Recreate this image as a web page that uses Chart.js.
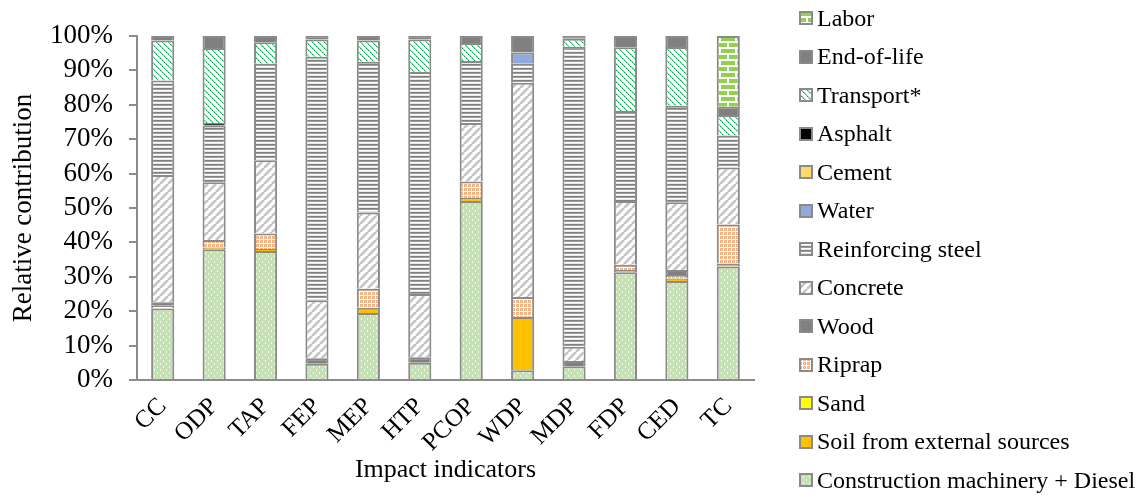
<!DOCTYPE html>
<html>
<head>
  <title>Relative contribution</title>
  <script src="https://cdn.jsdelivr.net/npm/chart.js"></script>
  <style>
    body { margin: 0; background: #fff; }
    #wrap { position: relative; width: 1145px; height: 496px; }
    #legend { position: absolute; left: 799px; top: 0; font-family: 'Liberation Serif', serif; font-size: 24px; color: #000; }
    .item { position: absolute; left: 0; height: 30px; display: flex; align-items: center; white-space: nowrap; }
    .item canvas { margin-right: 4px; }
  </style>
</head>
<body>
<div id="wrap">
  <canvas id="chart" width="1145" height="496"></canvas>
  <div id="legend"></div>
</div>
<script>
// categories + tick labels
const indicators = ['CC', 'ODP', 'TAP', 'FEP', 'MEP', 'HTP', 'PCOP', 'WDP', 'MDP', 'FDP', 'CED', 'TC'];
const yTicks = [0, 10, 20, 30, 40, 50, 60, 70, 80, 90, 100];

// shares in %, bottom of the stack first
const machinery = [20.8, 38.0, 37.5, 4.7, 19.5, 5.0, 52.0, 2.8, 4.0, 31.3, 28.8, 33.0];
const soil      = [0, 0.5, 0.6, 0, 1.5, 0, 0.9, 15.5, 0, 0.7, 0.7, 0.9];
const sand      = [0, 0, 0, 0, 0, 0, 0, 0, 0, 0, 0, 0];
const riprap    = [0.8, 2.2, 4.5, 0, 5.5, 0, 4.8, 5.8, 0, 1.5, 1.0, 11.3];
const wood      = [1.0, 0, 0, 1.6, 0, 1.6, 0, 0, 1.5, 0, 1.5, 0];
const concrete  = [37.0, 16.8, 21.3, 16.9, 22.2, 18.4, 17.0, 62.3, 4.2, 18.5, 19.7, 16.6];
const steel     = [27.5, 16.5, 28.0, 70.8, 43.8, 64.5, 18.0, 5.5, 87.2, 26.2, 28.0, 9.3];
const water     = [0, 0, 0, 0, 0, 0, 0, 3.3, 0, 0, 0, 0];
const cement    = [0, 0, 0, 0, 0, 0, 0, 0, 0, 0, 0, 0];
const asphalt   = [0, 0.7, 0, 0, 0, 0, 0, 0, 0, 0, 0, 0];
const transport = [11.6, 21.8, 6.3, 5.0, 6.2, 9.5, 5.3, 0, 2.3, 18.5, 17.1, 5.9];
const endOfLife = [1.3, 3.5, 1.8, 1.0, 1.3, 1.0, 2.0, 4.8, 0.8, 3.3, 3.2, 2.4];
const labor     = [0, 0, 0, 0, 0, 0, 0, 0, 0, 0, 0, 20.6];

const FONT = 'Liberation Serif';
const EDGE = '#8a8a8a';

// tiles for the hatch fills
function tile(w, h, draw) {
  const c = document.createElement('canvas');
  c.width = w; c.height = h;
  draw(c.getContext('2d'));
  return c;
}
function solid(color) {
  return tile(2, 2, g => { g.fillStyle = color; g.fillRect(0, 0, 2, 2); });
}

const tiles = {
  machinery: tile(6, 6, g => {
    g.fillStyle = '#c5e0b4'; g.fillRect(0, 0, 6, 6);
    g.fillStyle = '#f2f8ee'; g.fillRect(1, 0, 1, 2); g.fillRect(4, 3, 1, 2);
  }),
  soil: solid('#ffc000'),
  sand: solid('#ffff00'),
  riprap: tile(4, 4, g => {
    g.fillStyle = '#ffffff'; g.fillRect(0, 0, 4, 4);
    g.fillStyle = '#f4b183'; g.fillRect(0, 0, 3, 3);
    g.fillStyle = '#f8cbad'; g.fillRect(1, 1, 1, 1);
  }),
  wood: solid('#808080'),
  concrete: tile(8, 8, g => {
    g.fillStyle = '#ffffff'; g.fillRect(0, 0, 8, 8);
    g.strokeStyle = '#c4c4c4'; g.lineWidth = 2.6;
    for (const o of [-8, 0, 8]) { g.beginPath(); g.moveTo(o, 8); g.lineTo(o + 8, 0); g.stroke(); }
  }),
  steel: tile(1, 4, g => {
    g.fillStyle = '#808080'; g.fillRect(0, 0, 1, 1);
    g.fillStyle = '#9c9c9c'; g.fillRect(0, 1, 1, 1);
    g.fillStyle = '#ffffff'; g.fillRect(0, 2, 1, 1);
    g.fillStyle = '#e8e8e8'; g.fillRect(0, 3, 1, 1);
  }),
  water: solid('#8faadc'),
  cement: solid('#ffd966'),
  asphalt: solid('#000000'),
  transport: tile(6, 6, g => {
    g.fillStyle = '#ffffff'; g.fillRect(0, 0, 6, 6);
    for (let i = 0; i < 6; i++) {
      g.fillStyle = i % 2 === 0 ? '#00b050' : '#5fca91';
      g.fillRect(i, i, 1, 1);
      g.fillStyle = '#a6e2c1';
      g.fillRect((i + 1) % 6, i, 1, 1);
    }
  }),
  endOfLife: solid('#808080'),
  labor: tile(16, 12, g => {
    g.fillStyle = '#ffffff'; g.fillRect(0, 0, 16, 12);
    g.fillStyle = '#92d050';
    g.fillRect(1, 1, 14, 4);
    g.fillRect(0, 7, 7, 4); g.fillRect(9, 7, 7, 4);
  })
};

const ctx = document.getElementById('chart').getContext('2d');
const pat = key => ctx.createPattern(tiles[key], 'repeat');

const series = [
  ['Construction machinery + Diesel', machinery, 'machinery'],
  ['Soil from external sources', soil, 'soil'],
  ['Sand', sand, 'sand'],
  ['Riprap', riprap, 'riprap'],
  ['Wood', wood, 'wood'],
  ['Concrete', concrete, 'concrete'],
  ['Reinforcing steel', steel, 'steel'],
  ['Water', water, 'water'],
  ['Cement', cement, 'cement'],
  ['Asphalt', asphalt, 'asphalt'],
  ['Transport*', transport, 'transport'],
  ['End-of-life', endOfLife, 'endOfLife'],
  ['Labor', labor, 'labor']
];

const datasets = series.map(([label, data, key]) => ({
  label: label,
  data: data,
  backgroundColor: pat(key),
  borderColor: EDGE,
  borderWidth: 2,
  barPercentage: 0.45,
  categoryPercentage: 1
}));

new Chart(ctx, {
  type: 'bar',
  data: { labels: indicators, datasets: datasets },
  options: {
    responsive: false,
    animation: false,
    layout: { padding: { top: 36, right: 391, left: 0, bottom: 0 } },
    plugins: { legend: { display: false }, tooltip: { enabled: false } },
    scales: {
      x: {
        stacked: true,
        grid: { display: false },
        border: { display: true, color: '#8c8c8c', width: 2 },
        ticks: { color: '#000', font: { family: FONT, size: 25 }, minRotation: 45, maxRotation: 45, padding: 4 },
        title: { display: true, text: 'Impact indicators', color: '#000', font: { family: FONT, size: 26 }, padding: { top: 0, bottom: 10 } },
        afterFit: s => { s.height = 116; }
      },
      y: {
        stacked: true,
        min: 0,
        max: 100,
        afterBuildTicks: s => { s.ticks = yTicks.map(v => ({ value: v })); },
        grid: { drawOnChartArea: false, drawTicks: true, tickLength: 8, color: '#8c8c8c', lineWidth: 2 },
        border: { display: true, color: '#8c8c8c', width: 2 },
        ticks: { color: '#000', autoSkip: false, font: { family: FONT, size: 27 }, padding: 16, callback: v => v + '%' },
        title: { display: true, text: 'Relative contribution', color: '#000', font: { family: FONT, size: 27 }, padding: { top: 8, bottom: 0 } },
        afterFit: s => { s.width = 137; }
      }
    }
  }
});

// legend on the right, top item = last dataset
const legend = document.getElementById('legend');
series.slice().reverse().forEach(([label, , key], i) => {
  const item = document.createElement('div');
  item.className = 'item';
  item.style.top = (3 + i * 38.5) + 'px';
  const sw = document.createElement('canvas');
  sw.width = 14; sw.height = 14;
  const g = sw.getContext('2d');
  g.fillStyle = EDGE; g.fillRect(0, 0, 14, 14);
  g.fillStyle = g.createPattern(tiles[key], 'repeat'); g.fillRect(2, 2, 10, 10);
  item.appendChild(sw);
  item.appendChild(document.createTextNode(label));
  legend.appendChild(item);
});
</script>
</body>
</html>
